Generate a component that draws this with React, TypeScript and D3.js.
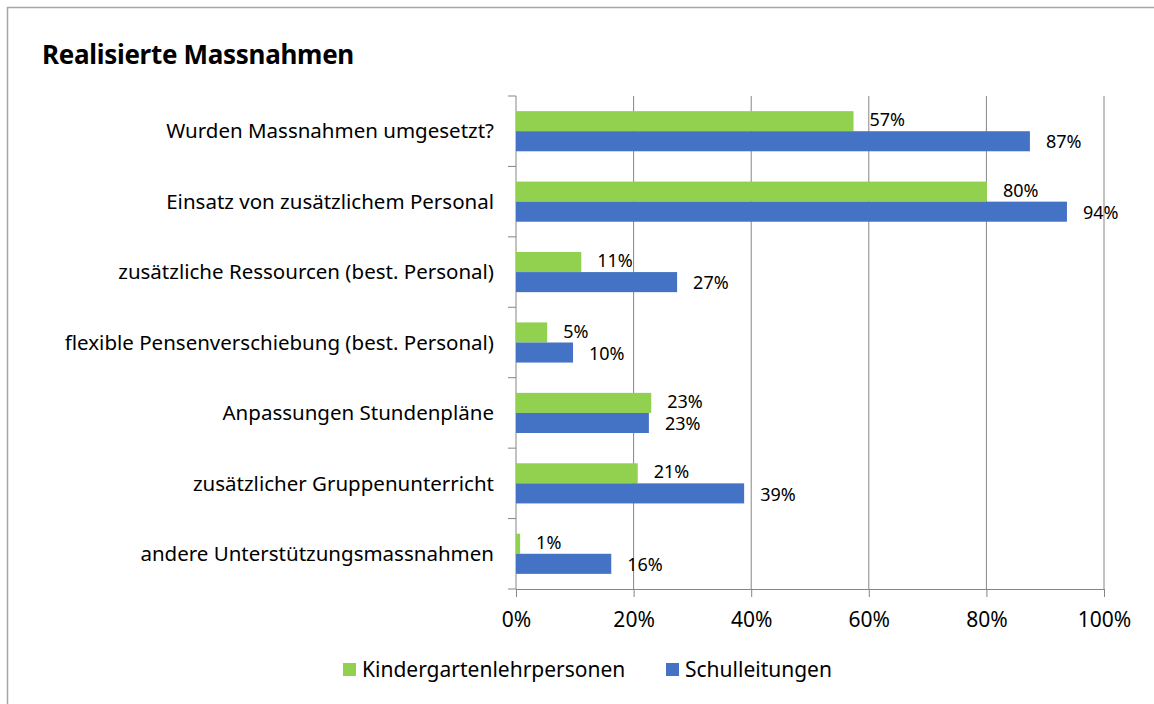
import React, { useRef, useEffect } from 'react';
import * as d3 from 'd3';

const categories = [
  'Wurden Massnahmen umgesetzt?',
  'Einsatz von zusätzlichem Personal',
  'zusätzliche Ressourcen (best. Personal)',
  'flexible Pensenverschiebung (best. Personal)',
  'Anpassungen Stundenpläne',
  'zusätzlicher Gruppenunterricht',
  'andere Unterstützungsmassnahmen',
];
const kindergarten = [57.4, 80.1, 11.1, 5.3, 23.0, 20.7, 0.7];
const schulleitungen = [87.4, 93.7, 27.4, 9.7, 22.6, 38.8, 16.2];
const seriesNames = ['Kindergartenlehrpersonen', 'Schulleitungen'];
const seriesColors = ['#92D050', '#4472C4'];
const xTicks = [0, 20, 40, 60, 80, 100];

const W = 1154;
const H = 704;
const labelFont = '"Noto Sans", "Open Sans", sans-serif';

const Chart = () => {
  const svgRef = useRef<SVGSVGElement>(null);

  useEffect(() => {
    const svg = d3.select(svgRef.current);
    svg.selectAll('*').remove();

    const margin = { top: 96, left: 516, right: 50, bottom: 115 };
    const innerW = W - margin.left - margin.right;
    const innerH = H - margin.top - margin.bottom;

    // frame
    svg.append('path')
      .attr('d', `M7.5,${H} V7.5 H${W}`)
      .attr('fill', 'none')
      .attr('stroke', '#a6a6a6')
      .attr('stroke-width', 1.5);

    svg.append('text')
      .attr('x', 42)
      .attr('y', 64)
      .style('font-family', labelFont)
      .style('font-size', '26px')
      .style('font-weight', 'bold')
      .style('letter-spacing', '-0.3px')
      .attr('fill', '#000')
      .text('Realisierte Massnahmen');

    const x = d3.scaleLinear().domain([0, 100]).range([0, innerW]);
    const y = d3.scaleBand().domain(categories).range([0, innerH]).paddingInner(0.43).paddingOuter(0.215);
    const sub = d3.scaleBand().domain(['0', '1']).range([0, y.bandwidth()]);

    const g = svg.append('g').attr('transform', `translate(${margin.left},${margin.top})`);

    // gridlines
    g.selectAll('.grid')
      .data(xTicks.slice(1))
      .enter()
      .append('line')
      .attr('x1', d => x(d))
      .attr('x2', d => x(d))
      .attr('y1', 0)
      .attr('y2', innerH)
      .attr('stroke', '#868686')
      .attr('stroke-width', 1);

    // x axis
    const xAxis = g.append('g')
      .attr('transform', `translate(0,${innerH})`)
      .call(d3.axisBottom(x).tickValues(xTicks).tickSize(8).tickFormat(d => `${d}%`));
    xAxis.select('.domain').attr('stroke', '#868686');
    xAxis.selectAll('line').attr('stroke', '#868686');
    xAxis.selectAll('text')
      .attr('y', 31)
      .attr('dy', '0.35em')
      .attr('fill', '#000')
      .style('font-family', labelFont)
      .style('font-size', '21px');

    // y axis: ticks between categories
    const step = innerH / categories.length;
    g.append('line')
      .attr('x1', 0).attr('x2', 0).attr('y1', 0).attr('y2', innerH)
      .attr('stroke', '#868686');
    g.selectAll('.ytick')
      .data(d3.range(categories.length + 1))
      .enter()
      .append('line')
      .attr('x1', -8).attr('x2', 0)
      .attr('y1', d => d * step).attr('y2', d => d * step)
      .attr('stroke', '#868686');

    g.selectAll('.cat')
      .data(categories)
      .enter()
      .append('text')
      .attr('x', -22)
      .attr('y', d => (y(d) as number) + y.bandwidth() / 2)
      .attr('dy', '0.35em')
      .attr('text-anchor', 'end')
      .style('font-family', labelFont)
      .style('font-size', '20.5px')
      .attr('fill', '#000')
      .text(d => d);

    const series = [kindergarten, schulleitungen];
    series.forEach((vals, si) => {
      const sg = g.append('g');
      sg.selectAll('rect')
        .data(vals)
        .enter()
        .append('rect')
        .attr('x', 0)
        .attr('y', (_, i) => (y(categories[i]) as number) + (sub(String(si)) as number))
        .attr('width', d => x(d))
        .attr('height', sub.bandwidth())
        .attr('fill', seriesColors[si]);
      sg.selectAll('text')
        .data(vals)
        .enter()
        .append('text')
        .attr('x', d => x(d) + 16)
        .attr('y', (_, i) => (y(categories[i]) as number) + (sub(String(si)) as number) + sub.bandwidth() / 2 + (si === 0 ? -1 : 1))
        .attr('dy', '0.34em')
        .style('font-family', labelFont)
        .style('font-size', '18px')
        .attr('fill', '#000')
        .text(d => `${Math.round(d)}%`);
    });

    // legend
    const legendPos = [343, 666];
    seriesNames.forEach((name, i) => {
      const lg = svg.append('g').attr('transform', `translate(${legendPos[i]},670)`);
      lg.append('rect').attr('x', 0).attr('y', -7).attr('width', 13).attr('height', 13).attr('fill', seriesColors[i]);
      lg.append('text')
        .attr('x', 19)
        .attr('y', 0)
        .attr('dy', '0.35em')
        .style('font-family', labelFont)
        .style('font-size', '21px')
        .attr('fill', '#000')
        .text(name);
    });
  }, []);

  return <svg ref={svgRef} width={W} height={H} style={{ display: 'block' }} />;
};

export default function App() {
  return (
    <div style={{ position: 'fixed', left: 0, top: 0, background: '#fff' }}>
      <Chart />
    </div>
  );
}
